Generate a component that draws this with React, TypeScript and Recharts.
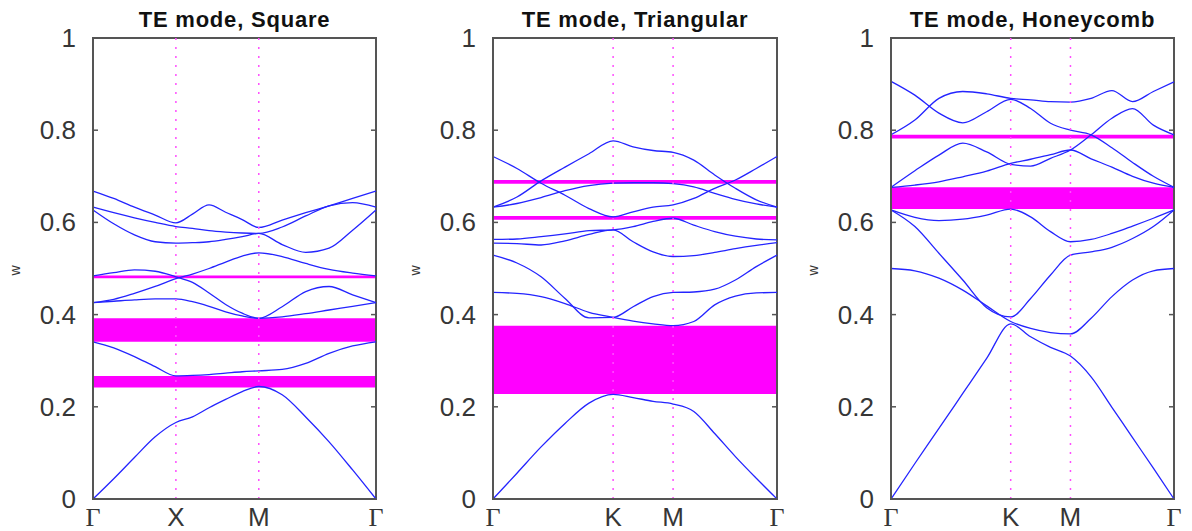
import React from 'react';
import { ComposedChart, Line, XAxis, YAxis, ReferenceArea, ReferenceLine } from 'recharts';

const wTicks = [0, 0.2, 0.4, 0.6, 0.8, 1];

// Square lattice, path Γ-X-M-Γ
const squareK = [0, 0.125, 0.25, 0.375, 0.5, 0.6, 0.7, 0.8, 0.9, 1.0, 1.141, 1.283, 1.424, 1.566, 1.707];
const squareTicks = [0, 0.5, 1.0, 1.707];
const squareLabels = ['Γ', 'X', 'M', 'Γ'];
const squareBands = [
  [0, 0.044, 0.09, 0.135, 0.166, 0.178, 0.198, 0.216, 0.233, 0.244, 0.226, 0.178, 0.124, 0.063, 0],
  [0.341, 0.328, 0.309, 0.287, 0.267, 0.268, 0.27, 0.273, 0.276, 0.278, 0.281, 0.294, 0.316, 0.332, 0.341],
  [0.426, 0.429, 0.432, 0.434, 0.434, 0.428, 0.418, 0.406, 0.397, 0.392, 0.395, 0.402, 0.41, 0.418, 0.426],
  [0.426, 0.433, 0.446, 0.461, 0.478, 0.488, 0.5, 0.514, 0.527, 0.534, 0.526, 0.511, 0.498, 0.49, 0.484],
  [0.484, 0.491, 0.497, 0.494, 0.482, 0.47, 0.447, 0.422, 0.403, 0.392, 0.417, 0.45, 0.461, 0.443, 0.426],
  [0.627, 0.597, 0.573, 0.558, 0.555, 0.556, 0.558, 0.563, 0.569, 0.576, 0.552, 0.535, 0.544, 0.583, 0.627],
  [0.633, 0.621, 0.61, 0.6, 0.591, 0.587, 0.582, 0.579, 0.577, 0.576, 0.59, 0.614, 0.636, 0.643, 0.633],
  [0.668, 0.652, 0.633, 0.616, 0.599, 0.618, 0.638, 0.622, 0.606, 0.589, 0.605, 0.621, 0.636, 0.652, 0.668],
];
const squareGaps = [[0.242, 0.267], [0.341, 0.392], [0.479, 0.485]];

// Triangular lattice, path Γ-K-M-Γ
const triK = [0, 0.133, 0.267, 0.4, 0.533, 0.667, 0.778, 0.889, 1.0, 1.115, 1.231, 1.346, 1.462, 1.577];
const triTicks = [0, 0.667, 1.0, 1.577];
const triLabels = ['Γ', 'K', 'M', 'Γ'];
const triBands = [
  [0, 0.056, 0.113, 0.164, 0.208, 0.227, 0.22, 0.212, 0.206, 0.19, 0.142, 0.092, 0.045, 0],
  [0.448, 0.446, 0.439, 0.424, 0.405, 0.394, 0.386, 0.38, 0.376, 0.385, 0.421, 0.44, 0.447, 0.448],
  [0.529, 0.512, 0.482, 0.435, 0.393, 0.394, 0.417, 0.439, 0.448, 0.449, 0.455, 0.475, 0.504, 0.529],
  [0.555, 0.554, 0.551, 0.56, 0.574, 0.584, 0.558, 0.536, 0.526, 0.528, 0.535, 0.543, 0.55, 0.556],
  [0.563, 0.564, 0.569, 0.575, 0.582, 0.584, 0.591, 0.602, 0.609, 0.594, 0.58, 0.57, 0.564, 0.562],
  [0.743, 0.717, 0.685, 0.659, 0.63, 0.612, 0.623, 0.633, 0.638, 0.652, 0.674, 0.692, 0.717, 0.743],
  [0.633, 0.641, 0.654, 0.669, 0.68, 0.685, 0.686, 0.686, 0.684, 0.677, 0.663, 0.65, 0.64, 0.633],
  [0.633, 0.655, 0.69, 0.72, 0.749, 0.777, 0.764, 0.756, 0.752, 0.735, 0.703, 0.674, 0.649, 0.633],
];
const triGaps = [[0.228, 0.376], [0.606, 0.614], [0.684, 0.692]];

// Honeycomb lattice, path Γ-K-M-Γ
const honeyK = [0, 0.133, 0.267, 0.4, 0.533, 0.667, 0.778, 0.889, 1.0, 1.115, 1.231, 1.346, 1.462, 1.577];
const honeyTicks = [0, 0.667, 1.0, 1.577];
const honeyLabels = ['Γ', 'K', 'M', 'Γ'];
const honeyBands = [
  [0, 0.077, 0.153, 0.229, 0.305, 0.38, 0.352, 0.329, 0.31, 0.265, 0.199, 0.133, 0.067, 0],
  [0.5, 0.495, 0.479, 0.453, 0.419, 0.385, 0.37, 0.361, 0.358, 0.392, 0.439, 0.475, 0.495, 0.5],
  [0.627, 0.591, 0.533, 0.475, 0.415, 0.395, 0.435, 0.486, 0.529, 0.536, 0.546, 0.565, 0.591, 0.627],
  [0.627, 0.611, 0.604, 0.607, 0.616, 0.629, 0.612, 0.58, 0.558, 0.563, 0.576, 0.592, 0.609, 0.627],
  [0.676, 0.681, 0.688, 0.699, 0.711, 0.728, 0.737, 0.747, 0.757, 0.738, 0.72, 0.7, 0.685, 0.676],
  [0.676, 0.712, 0.746, 0.772, 0.753, 0.726, 0.722, 0.739, 0.757, 0.79, 0.826, 0.847, 0.811, 0.79],
  [0.79, 0.822, 0.869, 0.884, 0.879, 0.869, 0.866, 0.862, 0.861, 0.869, 0.886, 0.862, 0.884, 0.905],
  [0.906, 0.876, 0.837, 0.816, 0.84, 0.867, 0.847, 0.815, 0.8, 0.79, 0.762, 0.73, 0.7, 0.676],
];
const honeyGaps = [[0.629, 0.676], [0.782, 0.79]];

const BLUE = '#2424ff';
const MAGENTA = '#ff00ff';
const FRAME = '#555555';
const TEXT = '#363636';
const FONT = '"Liberation Sans", Arial, sans-serif';

const YTick = (props: any) => {
  const { x, y, payload, plotW } = props;
  const v = payload.value;
  return (
    <g>
      <line x1={x} x2={x + 5} y1={y} y2={y} stroke={FRAME} strokeWidth={1.5} />
      <line x1={x + plotW} x2={x + plotW - 5} y1={y} y2={y} stroke={FRAME} strokeWidth={1.5} />
      <text x={x - 17} y={y} textAnchor="end" dominantBaseline="central" fontSize={26} fill={TEXT} fontFamily={FONT}>
        {String(v)}
      </text>
    </g>
  );
};

const XTick = (props: any) => {
  const { x, y, index, labels } = props;
  const label = labels[index];
  const serif = label === 'Γ';
  return (
    <text
      x={x}
      y={y + 18}
      textAnchor="middle"
      dominantBaseline="central"
      fontSize={26}
      fill={TEXT}
      fontFamily={serif ? '"Liberation Serif", "DejaVu Serif", serif' : FONT}
    >
      {label}
    </text>
  );
};

const renderW = (props: any) => {
  const vb = props.viewBox || { x: 0, y: 38, width: 93, height: 461 };
  const cx = vb.x + 15;
  const cy = vb.y + vb.height / 2 + 2;
  return (
    <text x={cx} y={cy} transform={`rotate(-90, ${cx}, ${cy})`} textAnchor="middle" dominantBaseline="central" fontSize={14} fill={TEXT} fontFamily={FONT}>
      w
    </text>
  );
};

type PanelProps = {
  title: string;
  left: number;
  width: number;
  plotW: number;
  k: number[];
  ticks: number[];
  labels: string[];
  bands: number[][];
  gaps: number[][];
};

const Panel: React.FC<PanelProps> = ({ title, left, width, plotW, k, ticks, labels, bands, gaps }) => {
  const rows = k.map((kv, i) => {
    const r: Record<string, number> = { k: kv };
    bands.forEach((b, j) => {
      r['b' + j] = b[i];
    });
    return r;
  });
  const kMax = ticks[ticks.length - 1];

  return (
    <div style={{ position: 'absolute', left, top: 0, width, height: 531 }}>
      <div
        style={{
          position: 'absolute',
          left: 93,
          top: 8,
          width: plotW,
          textAlign: 'center',
          fontFamily: FONT,
          fontWeight: 'bold',
          fontSize: 22,
          lineHeight: '24px',
          letterSpacing: 0.8,
          color: '#111',
          whiteSpace: 'nowrap',
        }}
      >
        {title}
      </div>
      <ComposedChart width={width} height={531} data={rows} margin={{ top: 38, right: width - 93 - plotW, bottom: 0, left: 0 }}>
        <XAxis
          dataKey="k"
          type="number"
          domain={[0, kMax]}
          ticks={ticks}
          interval={0}
          tickLine={false}
          tickSize={0}
          tickMargin={0}
          height={32}
          axisLine={{ stroke: FRAME, strokeWidth: 2 }}
          tick={<XTick labels={labels} />}
        />
        <YAxis
          type="number"
          domain={[0, 1]}
          ticks={wTicks}
          interval={0}
          width={93}
          tickLine={false}
          tickSize={0}
          tickMargin={0}
          axisLine={{ stroke: FRAME, strokeWidth: 2 }}
          tick={<YTick plotW={plotW} />}
          label={renderW}
        />
        {gaps.map((g, i) => (
          <ReferenceArea key={'gap' + i} y1={g[0]} y2={g[1]} fill={MAGENTA} fillOpacity={1} stroke="none" />
        ))}
        {bands.map((_, j) => (
          <Line
            key={'band' + j}
            dataKey={'b' + j}
            type="monotone"
            stroke={BLUE}
            strokeWidth={1.3}
            dot={false}
            activeDot={false}
            isAnimationActive={false}
          />
        ))}
        {ticks.slice(1, -1).map((t) => (
          <ReferenceLine key={'sym' + t} x={t} stroke="#ff4dff" strokeWidth={1.5} strokeDasharray="2 7" />
        ))}
        <ReferenceArea x1={0} x2={kMax} y1={0} y2={1} fill="none" fillOpacity={0} stroke={FRAME} strokeWidth={2} />
      </ComposedChart>
    </div>
  );
};

const App: React.FC = () => {
  return (
    <div style={{ position: 'absolute', left: 0, top: 0, width: 1192, height: 531, background: '#fff' }}>
      <Panel title="TE mode, Square" left={0} width={400} plotW={283} k={squareK} ticks={squareTicks} labels={squareLabels} bands={squareBands} gaps={squareGaps} />
      <Panel title="TE mode, Triangular" left={400} width={400} plotW={284} k={triK} ticks={triTicks} labels={triLabels} bands={triBands} gaps={triGaps} />
      <Panel title="TE mode, Honeycomb" left={798} width={394} plotW={283} k={honeyK} ticks={honeyTicks} labels={honeyLabels} bands={honeyBands} gaps={honeyGaps} />
    </div>
  );
};

export default App;
